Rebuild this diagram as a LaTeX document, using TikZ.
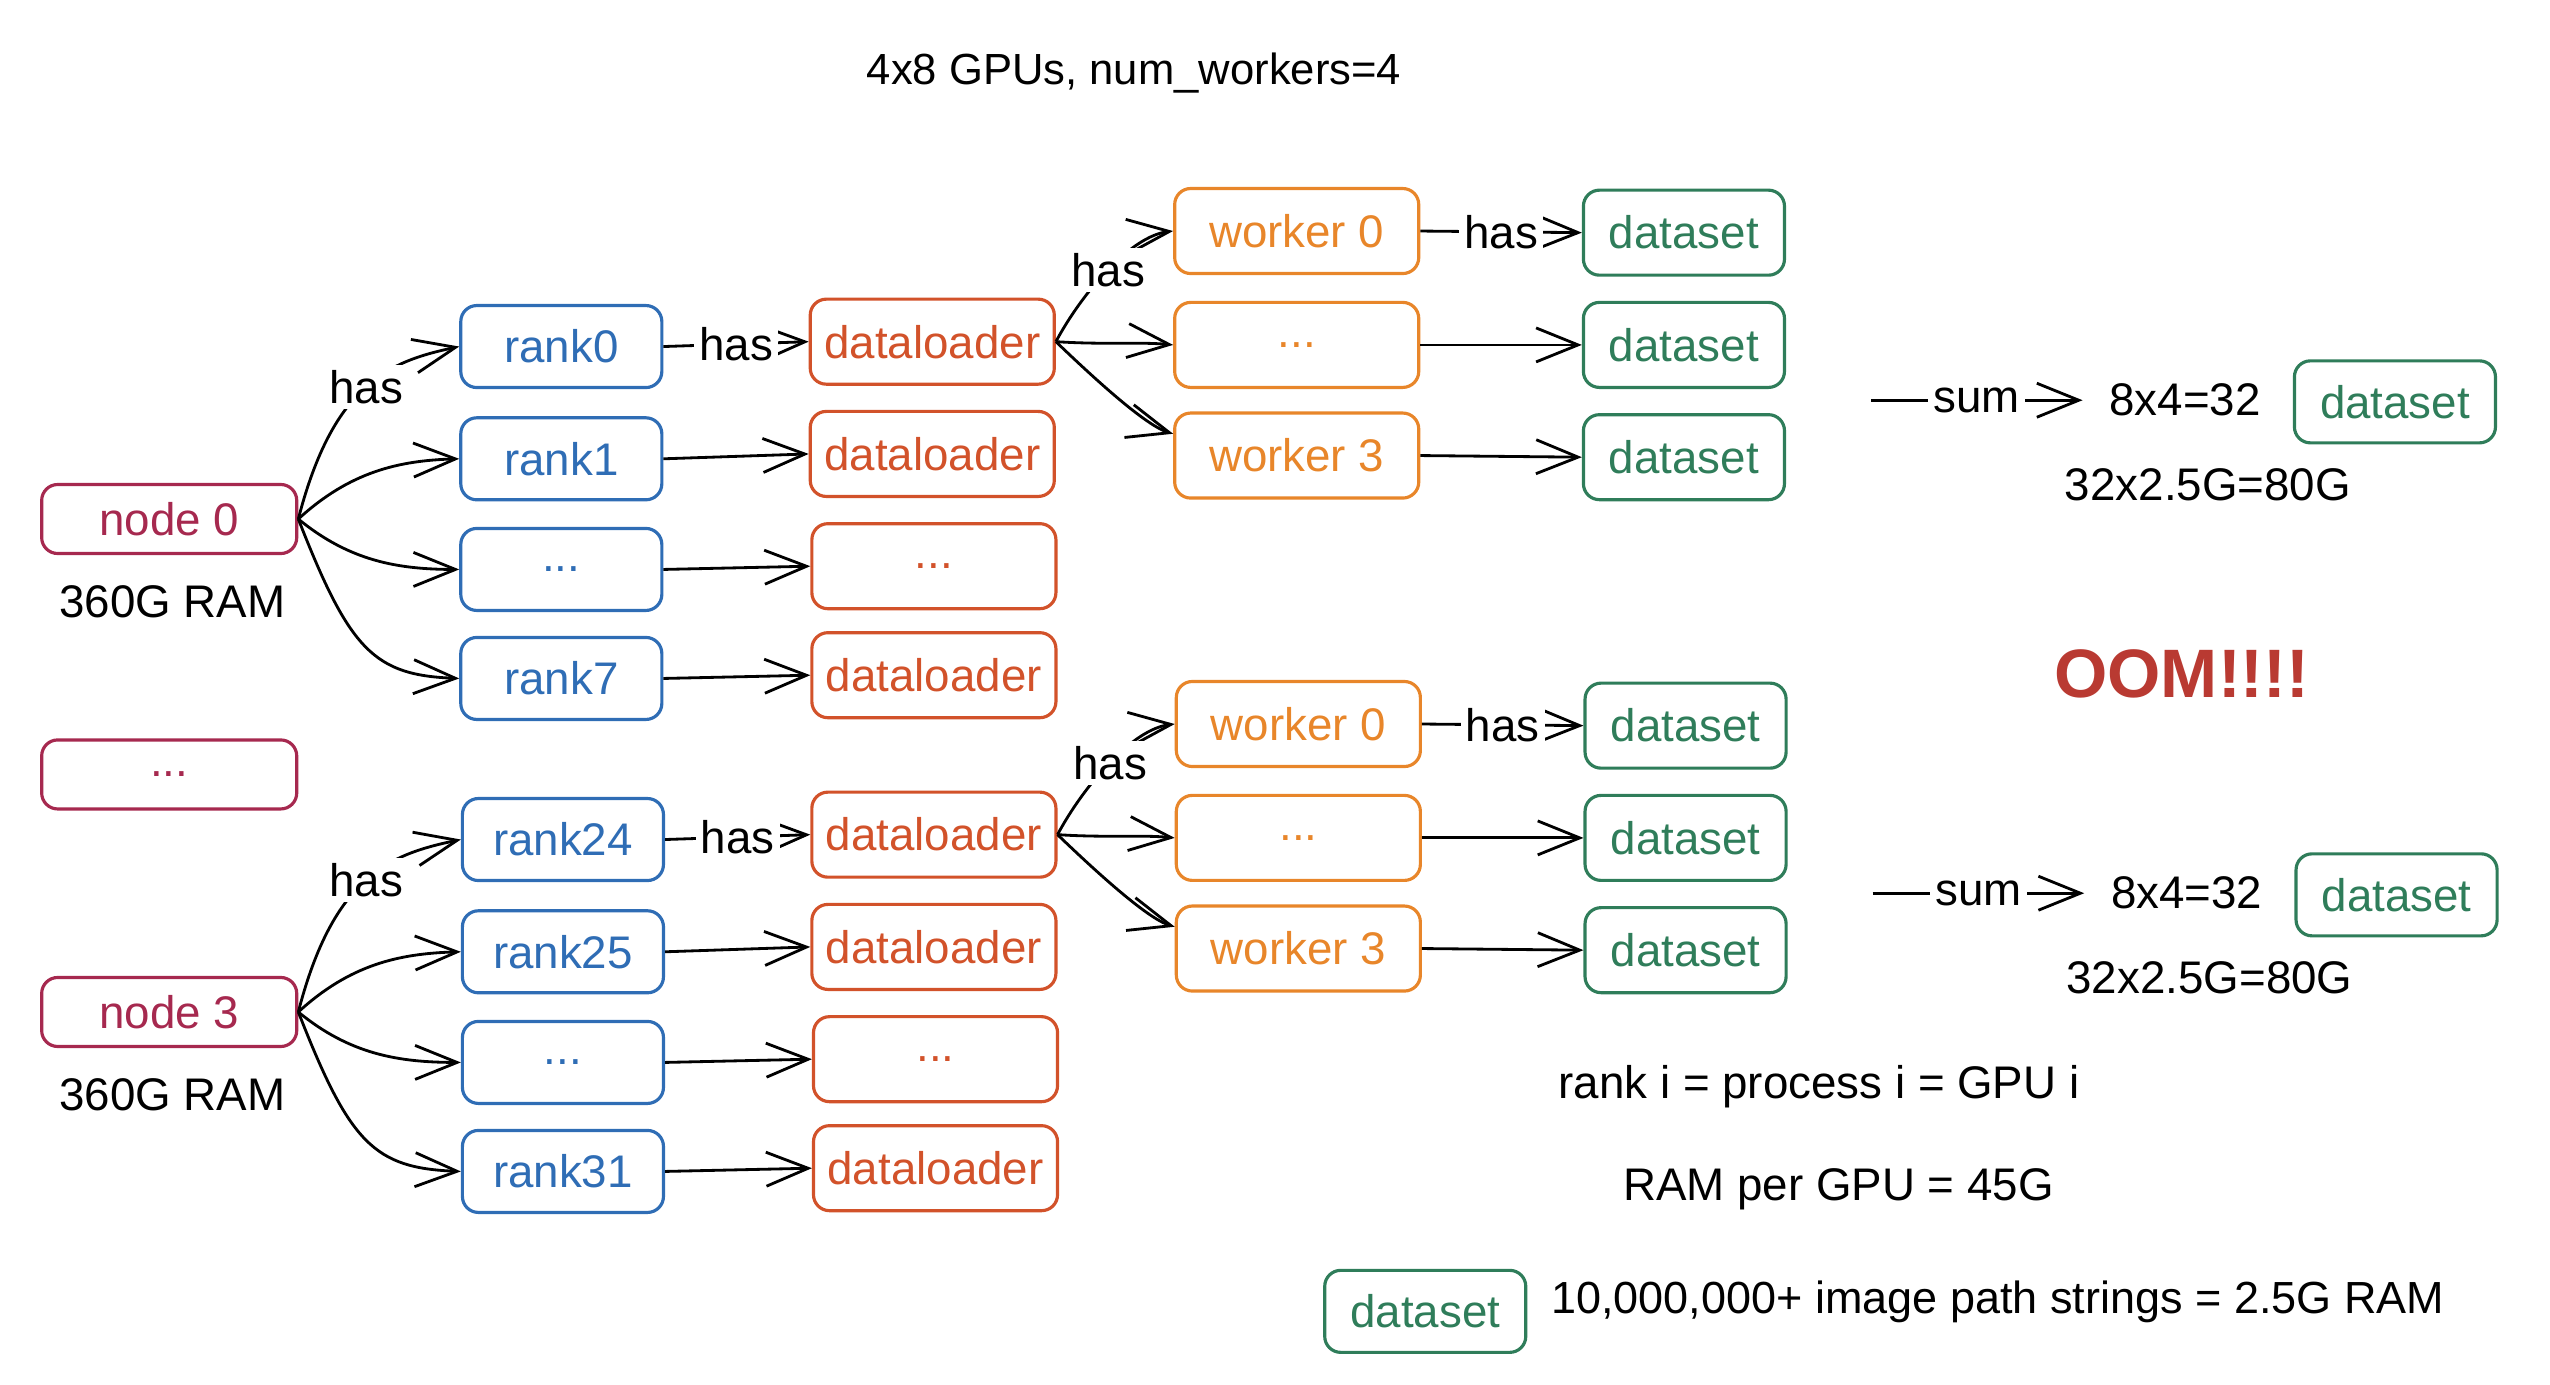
\documentclass[tikz,border=0pt]{standalone}
\usepackage{fontspec}
\setmainfont{Liberation Sans}
\usetikzlibrary{arrows.meta}
\definecolor{nodecol}{RGB}{166,41,79}
\definecolor{rankcol}{RGB}{47,109,181}
\definecolor{dlcol}{RGB}{210,82,42}
\definecolor{wkcol}{RGB}{232,134,42}
\definecolor{dscol}{RGB}{47,125,90}
\definecolor{oomcol}{RGB}{185,58,50}
\newcommand{\myfs}{\fontsize{13pt}{15pt}\selectfont}
\begin{document}
\begin{tikzpicture}[x=0.01627cm,y=-0.01627cm,
  box/.style={draw, rounded corners=0.16cm, line width=0.9pt, inner sep=0pt, font=\myfs},
  nodebox/.style={box, draw=nodecol, text=nodecol, minimum width=2.55cm, minimum height=0.69cm},
  rankbox/.style={box, draw=rankcol, text=rankcol, minimum width=2.01cm, minimum height=0.82cm},
  dlbox/.style={box, draw=dlcol, text=dlcol, minimum width=2.44cm, minimum height=0.85cm},
  wkbox/.style={box, draw=wkcol, text=wkcol, minimum width=2.44cm, minimum height=0.85cm},
  dsbox/.style={box, draw=dscol, text=dscol, minimum width=2.01cm, minimum height=0.85cm},
  arr/.style={-{Straight Barb[length=0.42cm,width=0.34cm,line width=0.8pt]}, line width=0.8pt, black},
  lbl/.style={fill=white, inner sep=1.5pt, font=\myfs, text=black},
  txt/.style={font=\myfs, text=black, inner sep=0pt}]
\useasboundingbox (0,0) rectangle (1567.3,850.7);

\node[txt, font=\fontsize{12.4pt}{15pt}\selectfont] (title) at (697,45) {4x8 GPUs, num\_workers=4};

\node[nodebox] (ndots) at (104,476) {...};

\foreach \g/\dy/\dx/\nm/\ra/\rb/\rc in {a/0/0/node 0/rank0/rank1/rank7, b/303/1/node 3/rank24/rank25/rank31}{
  % nodes
  \node[nodebox] (n\g) at (104,{319+\dy}) {\nm};
  \node[txt] (ram\g) at (106,{370+\dy}) {360G RAM};
  \node[rankbox] (r0\g) at ({345+\dx},{213+\dy}) {\ra};
  \node[rankbox] (r1\g) at ({345+\dx},{282+\dy}) {\rb};
  \node[rankbox] (r2\g) at ({345+\dx},{350+\dy}) {...};
  \node[rankbox] (r3\g) at ({345+\dx},{417+\dy}) {\rc};
  \node[dlbox] (d0\g) at ({573+\dx},{210+\dy}) {dataloader};
  \node[dlbox] (d1\g) at ({573+\dx},{279+\dy}) {dataloader};
  \node[dlbox] (d2\g) at ({574+\dx},{348+\dy}) {...};
  \node[dlbox] (d3\g) at ({574+\dx},{415+\dy}) {dataloader};
  \node[wkbox] (w0\g) at ({797+\dx},{142+\dy}) {worker 0};
  \node[wkbox] (w1\g) at ({797+\dx},{212+\dy}) {...};
  \node[wkbox] (w2\g) at ({797+\dx},{280+\dy}) {worker 3};
  \node[dsbox] (s0\g) at ({1035+\dx},{143+\dy}) {dataset};
  \node[dsbox] (s1\g) at ({1035+\dx},{212+\dy}) {dataset};
  \node[dsbox] (s2\g) at ({1035+\dx},{281+\dy}) {dataset};
  \node[txt] (cnt\g) at ({1343+\dx},{246+\dy}) {8x4=32};
  \node[dsbox, minimum height=0.82cm] (sum\g) at ({1472+\dx},{247+\dy}) {dataset};
  \node[txt] (tot\g) at ({1357+\dx},{298+\dy}) {32x2.5G=80G};
  \coordinate (sa\g) at ({1150+\dx},{246+\dy});
  \coordinate (sb\g) at ({1280+\dx},{246+\dy});
  % connectors
  \draw[arr] (n\g.east) .. controls (205,{235+\dy}) and (240,{222+\dy}) .. node[lbl,pos=0.5]{has} (r0\g.west);
  \draw[arr] (n\g.east) .. controls (215,{290+\dy}) and (245,{283+\dy}) .. (r1\g.west);
  \draw[arr] (n\g.east) .. controls (215,{345+\dy}) and (245,{350+\dy}) .. (r2\g.west);
  \draw[arr] (n\g.east) .. controls (215,{400+\dy}) and (230,{415+\dy}) .. (r3\g.west);
  \draw[arr] (r0\g.east) -- node[lbl]{has} (d0\g.west);
  \draw[arr] (r1\g.east) -- (d1\g.west);
  \draw[arr] (r2\g.east) -- (d2\g.west);
  \draw[arr] (r3\g.east) -- (d3\g.west);
  \draw[arr] (d0\g.east) .. controls ({665+\dx},{180+\dy}) and ({695+\dx},{145+\dy}) .. node[lbl]{has} (w0\g.west);
  \draw[arr] (d0\g.east) .. controls ({680+\dx},{212+\dy}) and ({700+\dx},{210+\dy}) .. (w1\g.west);
  \draw[arr] (d0\g.east) .. controls ({675+\dx},{235+\dy}) and ({705+\dx},{262+\dy}) .. (w2\g.170);
  \draw[arr] (w0\g.east) -- node[lbl]{has} (s0\g.west);
  \draw[arr] (w1\g.east) -- (s1\g.west);
  \draw[arr] (w2\g.east) -- (s2\g.west);
  \draw[arr] (sa\g) -- node[lbl]{sum} (sb\g);
}

\node[font=\fontsize{19.5pt}{23pt}\selectfont\bfseries, text=oomcol, inner sep=0pt] (oom) at (1341,414) {OOM!!!!};

\node[txt] (eq1) at (1118,668) {rank i = process i = GPU i};
\node[txt] (eq2) at (1130,731) {RAM per GPU = 45G};
\node[dsbox, minimum height=0.82cm] (legend) at (876,806) {dataset};
\node[txt, anchor=west, font=\fontsize{12.8pt}{15pt}\selectfont] (legtxt) at (953,800) {10,000,000+ image path strings = 2.5G RAM};
\end{tikzpicture}
\end{document}
